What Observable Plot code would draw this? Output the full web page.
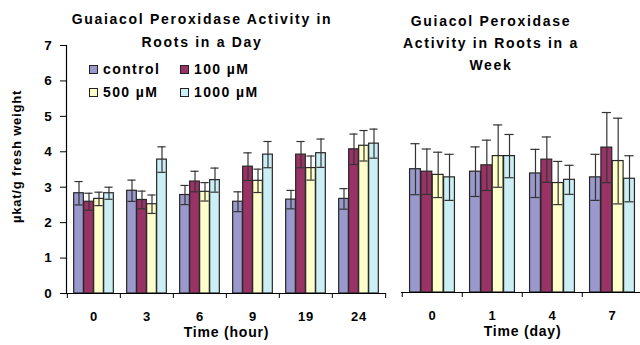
<!DOCTYPE html>
<html><head><meta charset="utf-8">
<script src="https://cdn.jsdelivr.net/npm/d3@7"></script>
<script src="https://cdn.jsdelivr.net/npm/@observablehq/plot@0.6"></script>
<style>
html,body{margin:0;padding:0;background:#fff;}
#wrap{position:relative;width:640px;height:345px;overflow:hidden;font-family:"Liberation Sans",Arial,sans-serif;font-weight:bold;color:#000;}
.t{position:absolute;text-align:center;font-size:14px;letter-spacing:1.7px;white-space:nowrap;transform:translateX(-50%);}
.leg{position:absolute;font-size:14px;letter-spacing:1.4px;display:flex;align-items:center;white-space:nowrap;transform:translateY(-50%);}
.sw{width:7px;height:7px;border:1px solid #222;margin-right:5px;}
#wrap svg{position:absolute;top:0;}
</style>
</head><body>
<div id="wrap"></div>
<script>
// ---- data ----
const seriesNames = ["control", "100 µM", "500 µM", "1000 µM"];
const seriesColors = ["#9999CC", "#993366", "#FFFFCC", "#CCEEF5"];
const yTicks = [0, 1, 2, 3, 4, 5, 6, 7];

const hours = ["0", "3", "6", "9", "19", "24"];
const hourControl = [2.83, 2.90, 2.78, 2.59, 2.65, 2.67];
const hourControlSD = [0.33, 0.30, 0.27, 0.28, 0.26, 0.29];
const hour100 = [2.59, 2.64, 3.16, 3.58, 3.92, 4.07];
const hour100SD = [0.24, 0.25, 0.29, 0.39, 0.37, 0.43];
const hour500 = [2.67, 2.52, 2.87, 3.18, 3.54, 4.17];
const hour500SD = [0.19, 0.26, 0.26, 0.33, 0.34, 0.43];
const hour1000 = [2.83, 3.78, 3.20, 3.92, 3.96, 4.23];
const hour1000SD = [0.17, 0.36, 0.34, 0.37, 0.40, 0.41];

const days = ["0", "1", "4", "7"];
const dayControl = [3.48, 3.41, 3.36, 3.25];
const dayControlSD = [0.72, 0.70, 0.68, 0.65];
const day100 = [3.41, 3.59, 3.75, 4.09];
const day100SD = [0.64, 0.71, 0.64, 0.99];
const day500 = [3.32, 3.85, 3.09, 3.71];
const day500SD = [0.64, 0.88, 0.61, 1.21];
const day1000 = [3.25, 3.85, 3.18, 3.21];
const day1000SD = [0.65, 0.61, 0.41, 0.65];

const titleLeft = ["Guaiacol Peroxidase Activity in", "Roots in a Day"];
const titleRight = ["Guiacol Peroxidase", "Activity in Roots in a", "Week"];
const yLabel = "µkat/g fresh weight";

// ---- drawing ----
function panel(cats, means, sds, o) {
  const cell = (o.width - o.ml - o.mr) / cats.length;
  const groupFrac = 0.75;
  const off0 = cell * (1 - groupFrac) / 2;
  const barW = cell * groupFrac / seriesNames.length;
  const capW = barW * 0.85;
  const marks = [];
  const rowsBySeries = seriesNames.map((s, j) => cats.map((c, i) => ({cat: c, series: s, mean: means[j][i], sd: sds[j][i]})));
  rowsBySeries.forEach((rows, j) => {
    marks.push(Plot.barY(rows, {
      x: "cat", y: "mean", fill: seriesColors[j], stroke: "#262626", strokeWidth: 1.2,
      insetLeft: off0 + j * barW, insetRight: cell - off0 - (j + 1) * barW
    }));
  });
  rowsBySeries.forEach((rows, j) => {
    const cl = off0 + j * barW + (barW - capW) / 2;
    const cr = cell - cl - capW;
    marks.push(Plot.ruleX(rows, {x: "cat", y1: d => d.mean - d.sd, y2: d => d.mean + d.sd, dx: off0 + (j + 0.5) * barW - cell / 2, stroke: "#333", strokeWidth: 1.2}));
    marks.push(Plot.tickY(rows, {x: "cat", y: d => d.mean + d.sd, insetLeft: cl, insetRight: cr, stroke: "#333", strokeWidth: 1.2}));
    marks.push(Plot.tickY(rows, {x: "cat", y: d => d.mean - d.sd, insetLeft: cl, insetRight: cr, stroke: "#333", strokeWidth: 1.2}));
  });
  marks.push(Plot.ruleY([0], {stroke: "#000", strokeWidth: 1.2}));
  marks.push(Plot.axisX({tickSize: 5, tickFormat: () => "", dx: -cell / 2, stroke: "#000", label: null}));
  marks.push(Plot.axisX({ticks: [cats[cats.length - 1]], tickSize: 5, tickFormat: () => "", dx: cell / 2, stroke: "#000", label: null}));
  marks.push(Plot.axisX({tickSize: 0, tickPadding: 18, fontSize: 13, label: null}));
  marks.push(Plot.axisX({ticks: [], tickSize: 0, fontSize: 14, label: o.xLabel, labelAnchor: "center", labelOffset: 43}));
  if (o.yAxis) {
    marks.push(Plot.frame({anchor: "left", stroke: "#000", strokeWidth: 1.2}));
    marks.push(Plot.axisY({ticks: yTicks, tickFormat: d3.format("d"), tickSize: 6, tickPadding: 8, fontSize: 13.5, label: null, stroke: "#000"}));
    marks.push(Plot.text([yLabel], {frameAnchor: "left", textAnchor: "middle", lineAnchor: "middle", rotate: -90, dx: -50, dy: -13, fontSize: 13, fontWeight: "bold"}));
  }
  return Plot.plot({
    width: o.width, height: 345,
    marginLeft: o.ml, marginRight: o.mr, marginTop: o.mt, marginBottom: o.mb,
    x: {type: "band", domain: cats, padding: 0},
    y: {domain: [0, 7], axis: o.yAxis ? undefined : null},
    style: {fontFamily: "'Liberation Sans', Arial, sans-serif", fontWeight: "bold", fontSize: "13px", color: "#000", background: "transparent", letterSpacing: "0.8px", overflow: "visible"},
    marks
  });
}

const wrap = document.getElementById("wrap");
const left = panel(hours, [hourControl, hour100, hour500, hour1000], [hourControlSD, hour100SD, hour500SD, hour1000SD],
  {width: 400, ml: 66, mr: 14, mt: 45, mb: 52, yAxis: true, xLabel: "Time (hour)"});
left.style.left = "0px";
wrap.appendChild(left);
const right = panel(days, [dayControl, day100, day500, day1000], [dayControlSD, day100SD, day500SD, day1000SD],
  {width: 260, ml: 11, mr: 7, mt: 44, mb: 53, yAxis: false, xLabel: "Time (day)"});
right.style.left = "390px";
wrap.appendChild(right);

function addTitle(lines, cx, top, lh) {
  const d = document.createElement("div");
  d.className = "t";
  d.style.left = cx + "px";
  d.style.top = top + "px";
  d.style.lineHeight = lh + "px";
  d.innerHTML = lines.map(s => s.replace(/&/g, "&amp;")).join("<br>");
  wrap.appendChild(d);
}
addTitle(titleLeft, 202, 8, 23);
addTitle(titleRight, 491, 10, 22);

const legendPos = [[89, 69], [180, 69], [89, 92], [180, 92]];
seriesNames.forEach((s, j) => {
  const d = document.createElement("div");
  d.className = "leg";
  d.style.left = legendPos[j][0] + "px";
  d.style.top = legendPos[j][1] + "px";
  const sw = document.createElement("span");
  sw.className = "sw";
  sw.style.background = seriesColors[j];
  d.appendChild(sw);
  d.appendChild(document.createTextNode(s));
  wrap.appendChild(d);
});
</script>
</body></html>
